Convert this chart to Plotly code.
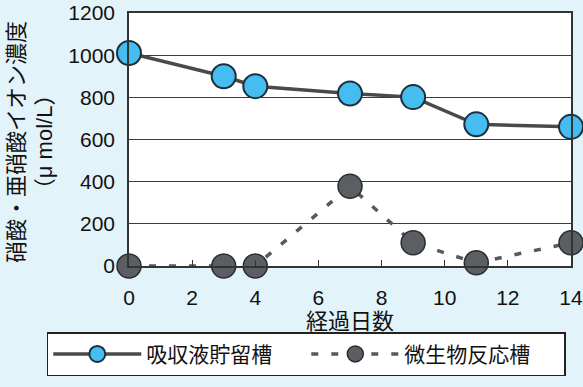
import plotly.graph_objects as go

# Nitrate/nitrite concentration over elapsed days
days_tank = [0, 3, 4, 7, 9, 11, 14]
tank_values = [1010, 900, 853, 818, 801, 672, 660]

days_reactor = [0, 3, 4, 7, 9, 11, 14]
reactor_values = [0, 0, 0, 378, 110, 15, 110]

tank_name = "吸収液貯留槽"
reactor_name = "微生物反応槽"
x_title = "経過日数"
y_title = "硝酸・亜硝酸イオン濃度<br>（μ mol/L）"

x_ticks = [0, 2, 4, 6, 8, 10, 12, 14]
y_ticks = [0, 200, 400, 600, 800, 1000, 1200]

font_family = "Liberation Sans, Noto Sans CJK JP, sans-serif"
bg = "#e3f3fa"
axis_col = "#333333"

fig = go.Figure()

fig.add_trace(go.Scatter(
    x=days_tank, y=tank_values, name=tank_name,
    mode="lines+markers",
    line=dict(color="#4a4a4a", width=3.5),
    marker=dict(size=24, color="#45bdf0", line=dict(color="#1d2f3a", width=2)),
    cliponaxis=False,
))

fig.add_trace(go.Scatter(
    x=days_reactor, y=reactor_values, name=reactor_name,
    mode="lines+markers",
    line=dict(color="#555a5e", width=3.5, dash="7px,13px"),
    marker=dict(size=24, color="#5b5f63", line=dict(color="#2a2c2e", width=1.5)),
    cliponaxis=False,
))

fig.update_layout(
    width=583, height=387,
    margin=dict(l=129, r=12, t=13, b=121, autoexpand=False),
    paper_bgcolor=bg,
    plot_bgcolor="white",
    font=dict(family=font_family, size=21, color="#111111"),
    showlegend=True,
    legend=dict(
        orientation="h",
        x=-0.186, y=-0.262, xanchor="left", yanchor="top",
        bgcolor="white", bordercolor="#222222", borderwidth=1.5,
        font=dict(size=21, family=font_family),
        itemwidth=88,
        entrywidth=155,
        tracegroupgap=0,
    ),
    annotations=[dict(
        text=y_title, textangle=-90,
        xref="paper", yref="paper",
        x=-0.222, y=0.49, xanchor="center", yanchor="middle",
        showarrow=False,
        font=dict(size=22, family=font_family),
    )],
)

fig.update_xaxes(
    range=[0, 14], tickvals=x_ticks,
    showgrid=False, zeroline=False,
    showline=True, linecolor=axis_col, linewidth=1.5, mirror=True,
    ticks="inside", ticklen=6, tickcolor=axis_col,
    ticklabelstandoff=12,
    title=dict(text=x_title, standoff=2, font=dict(size=22)),
)

fig.update_yaxes(
    range=[0, 1200], tickvals=y_ticks,
    showgrid=True, gridcolor="#3a3a3a", gridwidth=1,
    zeroline=False,
    showline=True, linecolor=axis_col, linewidth=1.5, mirror=True,
    ticks="", ticklabelstandoff=8,
)

fig.write_html("out.html")
